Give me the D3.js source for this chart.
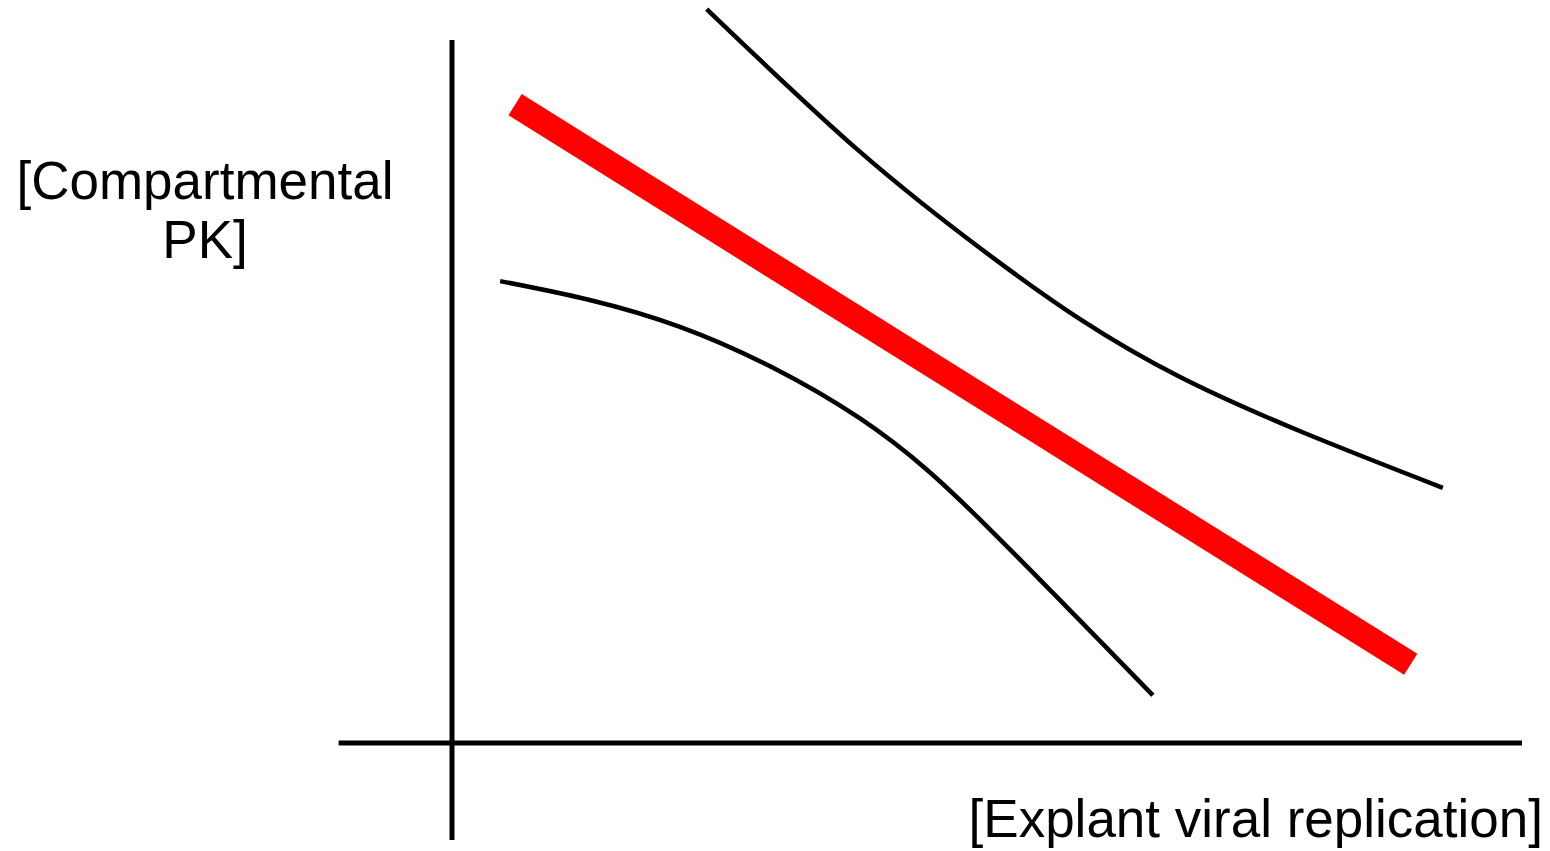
<!DOCTYPE html>
<html lang="en">
	<head>
		<meta charset="utf-8">
		<title>Compartmental PK vs explant viral replication</title>
		<script src="https://d3js.org/d3.v7.min.js"></script>
		<style>
			body { margin: 0; background: #fff; }
			text { font-family: "Liberation Sans", Arial, sans-serif; fill: #000; }
		</style>
	</head>
	<body>
		<script type="text/javascript">
			// window size
			var w = 1550
			var h = 851

			// data (arbitrary units, 0-100 on both axes)
			var redLine = [[5.9, 90.8], [89.6, 11.2]]
			var upperCurve = [[23.8, 104.4], [37.9, 84.4], [51.2, 68.3], [68.0, 52.1], [92.6, 36.3]]
			var lowerCurve = [[4.5, 65.7], [21.3, 59.2], [38.1, 46.2], [50.6, 29.9], [65.5, 6.8]]
			var yLabelLines = ["[Compartmental", "PK]"]
			var xLabel = "[Explant viral replication]"

			// scales
			var xScale = d3.scaleLinear()
							.domain([0, 100])
							.range([452, 1522])
			var yScale = d3.scaleLinear()
							.domain([0, 100])
							.range([743, 40])

			var svg = d3.select("body")
						.append("svg")
						.attr("width", w)
						.attr("height", h)

			// axes: plain lines, no ticks
			svg.append("line")
				.attr("x1", xScale(-10.6)).attr("x2", xScale(100))
				.attr("y1", yScale(0)).attr("y2", yScale(0))
				.attr("stroke", "#000").attr("stroke-width", 5)
			svg.append("line")
				.attr("x1", xScale(0)).attr("x2", xScale(0))
				.attr("y1", yScale(100)).attr("y2", yScale(-13.8))
				.attr("stroke", "#000").attr("stroke-width", 5)

			var line = d3.line()
						.x(function(d){ return xScale(d[0]) })
						.y(function(d){ return yScale(d[1]) })
						.curve(d3.curveNatural)

			// black bounds
			svg.selectAll("path.bound")
				.data([upperCurve, lowerCurve])
				.enter()
				.append("path")
				.attr("class", "bound")
				.attr("d", line)
				.attr("fill", "none")
				.attr("stroke", "#000")
				.attr("stroke-width", 4.5)

			// red relationship line
			svg.append("path")
				.datum(redLine)
				.attr("d", d3.line().x(function(d){ return xScale(d[0]) }).y(function(d){ return yScale(d[1]) }))
				.attr("fill", "none")
				.attr("stroke", "#ff0000")
				.attr("stroke-width", 25)

			// y label
			svg.append("text")
				.attr("x", 205)
				.attr("y", 199)
				.attr("text-anchor", "middle")
				.attr("font-size", 53)
				.selectAll("tspan")
				.data(yLabelLines)
				.enter()
				.append("tspan")
				.attr("x", 205)
				.attr("dy", function(d, i){ return i == 0 ? 0 : 59 })
				.text(function(d){ return d })

			// x label
			svg.append("text")
				.attr("x", 1543)
				.attr("y", 837)
				.attr("text-anchor", "end")
				.attr("font-size", 53)
				.text(xLabel)
		</script>
	</body>
</html>
